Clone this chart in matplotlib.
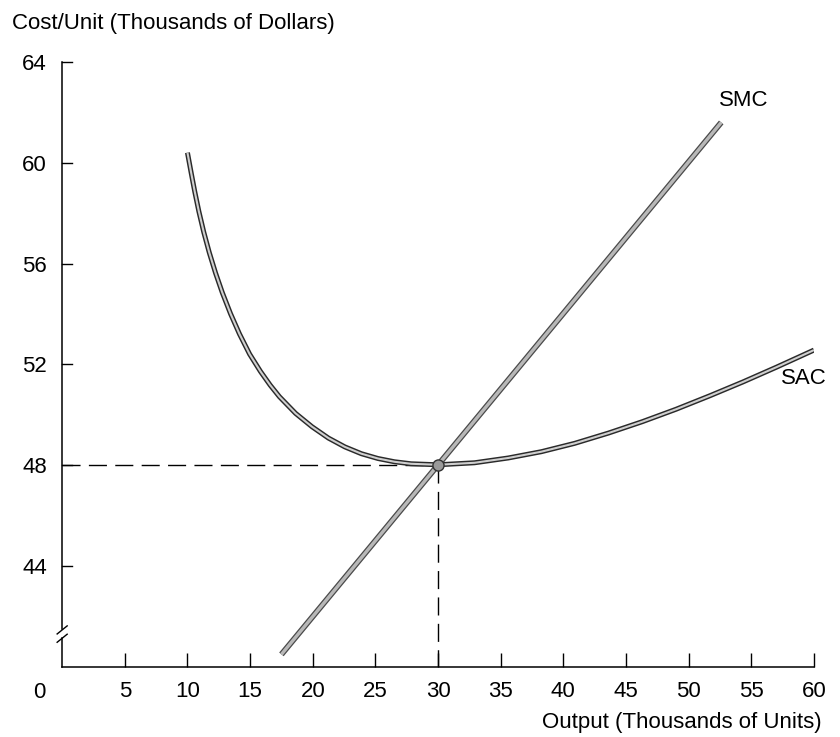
import matplotlib
matplotlib.use("Agg")
import matplotlib.pyplot as plt

plt.rcParams['font.family'] = ['Liberation Sans', 'DejaVu Sans']

# Dati (migliaia di unita, migliaia di dollari)
sac_x = [10.0, 10.3, 10.58, 10.91, 11.3, 11.74, 12.24, 12.78, 13.44, 14.15,
         14.96, 15.83, 16.6, 17.34, 18.63, 19.94, 21.25, 22.56, 23.88, 25.2,
         26.52, 27.85, 30.0, 32.91, 35.6, 38.25, 40.9, 43.61, 46.3, 48.98,
         51.7, 54.35, 57.0, 60.0]
sac_y = [60.4, 59.59, 58.86, 58.07, 57.25, 56.44, 55.63, 54.85, 54.01, 53.21,
         52.41, 51.72, 51.18, 50.72, 50.06, 49.53, 49.08, 48.73, 48.46, 48.27,
         48.14, 48.06, 48.02, 48.1, 48.29, 48.54, 48.87, 49.28, 49.73, 50.22,
         50.76, 51.31, 51.89, 52.57]
smc_x = [17.5, 52.6]
smc_y = [40.5, 61.6]
opt_x = 30
opt_y = 48
x_ticks = [5, 10, 15, 20, 25, 30, 35, 40, 45, 50, 55, 60]
y_ticks = [44, 48, 52, 56, 60, 64]

fig = plt.figure(figsize=(8.4, 7.37), dpi=100)
ax = fig.add_axes([0.074, 0.095, 0.895, 0.821])
ax.set_xlim(0, 60)
ax.set_ylim(40, 64)

# Spine: solo asse x, l'asse y lo disegno a mano con la rottura
for side in ['top', 'right', 'left']:
    ax.spines[side].set_visible(False)
ax.spines['bottom'].set_linewidth(1.1)
ax.axvline(0, ymin=0, ymax=(41.15 - 40) / 24, color='black', lw=1.1, clip_on=False)
ax.axvline(0, ymin=(41.5 - 40) / 24, ymax=1, color='black', lw=1.1, clip_on=False)
for dy in (0.0, 0.33):
    ax.plot([-0.4, 0.4], [40.98 + dy, 41.3 + dy], color='black', lw=1.0, clip_on=False)

ax.set_xticks(x_ticks)
ax.set_yticks(y_ticks)
ax.tick_params(axis='both', direction='in', length=10, width=1.0,
               labelsize=16, colors='black')
ax.tick_params(axis='x', pad=10)
ax.tick_params(axis='y', pad=11, left=False)
for yt in y_ticks:
    ax.plot([0, 0.8], [yt, yt], color='black', lw=1.0, clip_on=False)
ax.text(-1.8, 39.4, '0', ha='center', va='top', fontsize=16)

# Linee tratteggiate verso gli assi
dash = (0, (13, 6))
ax.plot([0, opt_x], [opt_y, opt_y], color='black', lw=1.0, linestyle=dash)
ax.plot([opt_x, opt_x], [opt_y, 40], color='black', lw=1.0, linestyle=dash)

# Curve con effetto "doppia linea"
ax.plot(smc_x, smc_y, color='#4a4a4a', lw=4.2, solid_capstyle='butt', zorder=3)
ax.plot(smc_x, smc_y, color='#b8b8b8', lw=2.4, solid_capstyle='butt', zorder=3)
ax.plot(sac_x, sac_y, color='#2a2a2a', lw=3.6, solid_capstyle='butt', zorder=4)
ax.plot(sac_x, sac_y, color='#cfcfcf', lw=1.5, solid_capstyle='butt', zorder=4)
ax.plot([opt_x], [opt_y], marker='o', ms=8, mfc='#9a9a9a', mec='#333333',
        mew=1.0, zorder=5)

ax.text(54.4, 62.45, 'SMC', ha='center', va='center', fontsize=16)
ax.text(59.2, 51.45, 'SAC', ha='center', va='center', fontsize=16)

fig.text(0.014, 1 - 24 / 737, 'Cost/Unit (Thousands of Dollars)',
         ha='left', va='center', fontsize=16)
fig.text(0.978, 0.02, 'Output (Thousands of Units)',
         ha='right', va='center', fontsize=16)

fig.savefig('out.png', dpi=100)
